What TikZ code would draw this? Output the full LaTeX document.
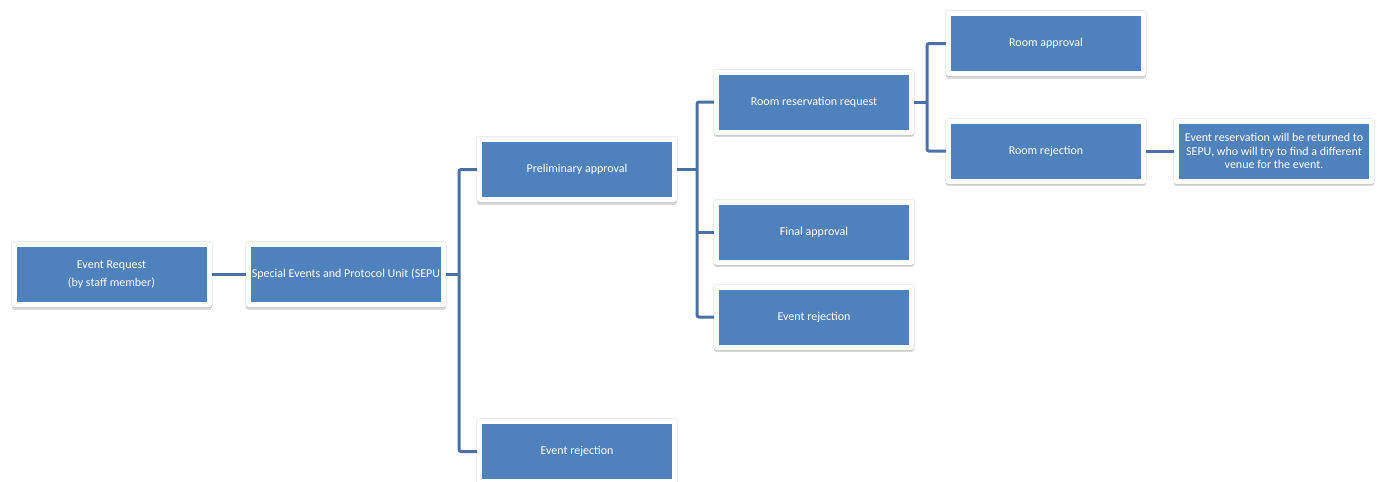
\documentclass[tikz,border=0pt]{standalone}
\usepackage{fontspec}
\setmainfont{Carlito}
\usetikzlibrary{shadows}
\definecolor{boxblue}{RGB}{79,129,189}
\definecolor{linkblue}{RGB}{74,112,166}
\tikzset{
  orgbox/.style={draw=white, line width=5pt, line join=round, fill=boxblue,
    minimum width=195pt, minimum height=60pt, inner sep=0pt,
    text=white, font=\fontsize{12pt}{14pt}\selectfont, align=center,
    general shadow={draw=black!30, fill=black!30, line width=7pt, line join=round, opacity=0.25},
    drop shadow={shadow xshift=0pt, shadow yshift=-2.5pt, draw=black!50, fill=black!50,
      line width=5pt, line join=round, opacity=0.3}},
  link/.style={draw=linkblue, line width=3pt, rounded corners=2pt}
}
\begin{document}
\begin{tikzpicture}[x=1pt,y=-1pt]
\useasboundingbox (0,0) rectangle (1377,482);
\clip (0,0) rectangle (1377,482);
\node[orgbox, font=\fontsize{12pt}{18pt}\selectfont] (er) at (111.5,274.5) {Event Request\\(by staff member)};
\node[orgbox] (sepu) at (346,274.5) {Special Events and Protocol Unit (SEPU};
\node[orgbox] (pre) at (577,169.5) {Preliminary approval};
\node[orgbox] (erb) at (577,451.5) {Event rejection};
\node[orgbox] (rrr) at (814,102) {Room reservation request};
\node[orgbox] (fin) at (814,232) {Final approval};
\node[orgbox] (erm) at (814,317) {Event rejection};
\node[orgbox] (ra) at (1046,43.5) {Room approval};
\node[orgbox] (rj) at (1046,151) {Room rejection};
\node[orgbox, font=\fontsize{12pt}{13.3pt}\selectfont] (ev) at (1274,151) {Event reservation will be returned to\\SEPU, who will try to find a different\\venue for the event.};
\coordinate (t1) at (459,0);
\coordinate (t2) at (697,0);
\coordinate (t3) at (927,0);
\path[link] (er.east) -- (sepu.west);
\path[link] (sepu.east) -- (sepu.east -| t1);
\path[link] (pre.west) -- (pre.west -| t1) -- (erb.west -| t1) -- (erb.west);
\path[link] (pre.east) -- (pre.east -| t2);
\path[link] (rrr.west) -- (rrr.west -| t2) -- (erm.west -| t2) -- (erm.west);
\path[link] (fin.west -| t2) -- (fin.west);
\path[link] (rrr.east) -- (rrr.east -| t3);
\path[link] (ra.west) -- (ra.west -| t3) -- (rj.west -| t3) -- (rj.west);
\path[link] (rj.east) -- (ev.west);
\end{tikzpicture}
\end{document}
